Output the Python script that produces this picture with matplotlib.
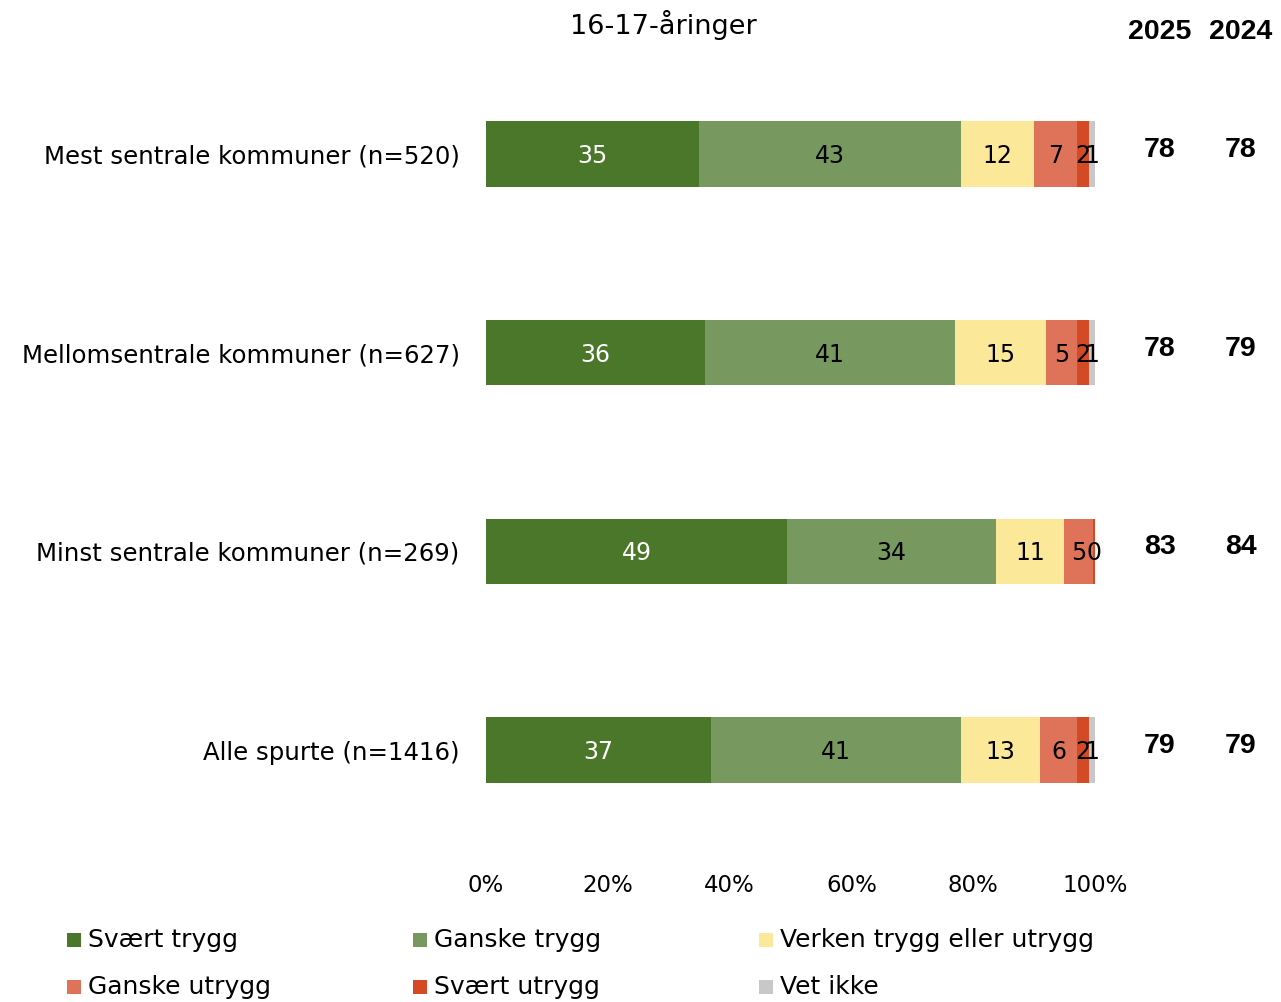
import numpy as np
import matplotlib
matplotlib.use("Agg")
import matplotlib.pyplot as plt
from matplotlib.patches import Rectangle
from matplotlib.transforms import blended_transform_factory

# Data
categories = ["Mest sentrale kommuner (n=520)",
              "Mellomsentrale kommuner (n=627)",
              "Minst sentrale kommuner (n=269)",
              "Alle spurte (n=1416)"]
series_names = ["Svært trygg", "Ganske trygg", "Verken trygg eller utrygg",
                "Ganske utrygg", "Svært utrygg", "Vet ikke"]
svaert_trygg = [35, 36, 49.4, 37]
ganske_trygg = [43, 41, 34.3, 41]
verken = [12, 15, 11.2, 13]
ganske_utrygg = [7, 5, 4.8, 6]
svaert_utrygg = [2, 2, 0.3, 2]
vet_ikke = [1, 1, 0, 1]
sum_2025 = [78, 78, 83, 79]
sum_2024 = [78, 79, 84, 79]
x_ticks = [0, 20, 40, 60, 80, 100]
x_ticklabels = ["0%", "20%", "40%", "60%", "80%", "100%"]

colors = ["#4a7729", "#77985f", "#fce899", "#df735a", "#d34a24", "#c8c8c8"]
text_colors = ["white", "black", "black", "black", "black", "black"]

plt.rcParams['font.family'] = ['DejaVu Sans']

fig = plt.figure(figsize=(12.81, 10.02), dpi=100)
ax = fig.add_axes([486 / 1281, 1 - 869.4 / 1002, 609 / 1281, (869.4 - 54.5) / 1002])

series = [svaert_trygg, ganske_trygg, verken, ganske_utrygg, svaert_utrygg, vet_ikke]
y = np.arange(len(categories))
left = np.zeros(len(categories))
for vals, color, tcol in zip(series, colors, text_colors):
    vals = np.array(vals, dtype=float)
    ax.barh(y, vals, left=left, height=0.33, color=color, edgecolor="none")
    for yi, (l, v) in enumerate(zip(left, vals)):
        if v > 0:
            ax.text(l + v / 2, yi + 0.01, f"{v:.0f}", ha="center", va="center",
                    fontsize=17, color=tcol)
    left += vals

ax.set_xlim(0, 100)
ax.set_ylim(3.6, -0.5)
ax.set_yticks(y)
ax.set_yticklabels(categories, fontsize=17.6)
ax.set_xticks(x_ticks)
ax.set_xticklabels(x_ticklabels, fontsize=16.5)
ax.tick_params(length=0, axis="y", pad=19)
ax.tick_params(length=0, axis="x", pad=3)
for s in ax.spines.values():
    s.set_visible(False)

# Title and sum columns
fig.text(663 / 1281, 1 - 25 / 1002, "16-17-åringer", ha="center", va="center", fontsize=19.5)
bold = dict(family="Liberation Sans", fontweight="bold", fontsize=20.5)
fig.text(1160 / 1281, 1 - 32 / 1002, "2025", ha="center", va="center", **bold)
fig.text(1241 / 1281, 1 - 32 / 1002, "2024", ha="center", va="center", **bold)
trans = blended_transform_factory(fig.transFigure, ax.transData)
for yi, (a, b) in enumerate(zip(sum_2025, sum_2024)):
    ax.text(1160 / 1281, yi - 0.02, str(a), transform=trans, ha="center", va="center", **bold)
    ax.text(1241 / 1281, yi - 0.02, str(b), transform=trans, ha="center", va="center", **bold)

# Legend (3 columns, 2 rows)
col_x = [67, 413, 759]
row_y = [940, 987]
for i, (name, color) in enumerate(zip(series_names, colors)):
    cx = col_x[i % 3]
    cy = row_y[i // 3]
    fig.patches.append(Rectangle((cx / 1281, 1 - (cy + 7) / 1002), 14 / 1281, 14 / 1002,
                                 transform=fig.transFigure, facecolor=color, edgecolor="none"))
    fig.text((cx + 21) / 1281, 1 - cy / 1002, name, ha="left", va="center", fontsize=18)

fig.savefig("out.png", dpi=100)
